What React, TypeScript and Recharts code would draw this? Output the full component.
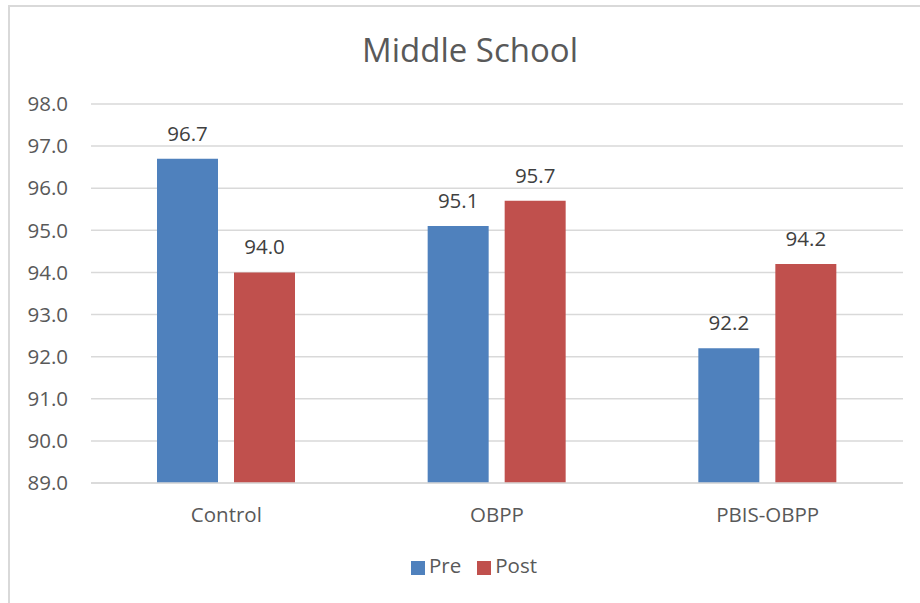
import React from "react";
import { BarChart, Bar, XAxis, YAxis, CartesianGrid, Legend, LabelList } from "recharts";

const categories = ["Control", "OBPP", "PBIS-OBPP"];
const preValues = [96.7, 95.1, 92.2];
const postValues = [94.0, 95.7, 94.2];
const yTicks = [89, 90, 91, 92, 93, 94, 95, 96, 97, 98];

const data = categories.map((c, i) => ({ name: c, Pre: preValues[i], Post: postValues[i] }));

const FONT = "'Open Sans', 'Noto Sans', sans-serif";
const TEXT = "#595959";
const FS = 20.5;

export default function App() {
  return (
    <div style={{ position: "absolute", left: 0, top: 0, width: 920, height: 603, overflow: "hidden", background: "#fff", fontFamily: FONT }}>
      <div style={{ position: "absolute", left: 8, top: 5, width: 960, height: 700, border: "2px solid #d9d9d9", boxSizing: "border-box" }} />
      <div style={{ position: "absolute", left: 8, top: 27, width: 924, textAlign: "center", fontSize: 33, color: TEXT, fontFamily: FONT }}>Middle School</div>
      <div style={{ position: "absolute", left: 0, top: 0 }}>
        <BarChart
          width={920}
          height={603}
          data={data}
          margin={{ top: 104, right: 17, left: 0, bottom: 52 }}
          barGap={16}
          barCategoryGap={66}
        >
          <CartesianGrid vertical={false} stroke="#d9d9d9" strokeWidth={1.5} />
          <XAxis
            dataKey="name"
            axisLine={{ stroke: "#d9d9d9", strokeWidth: 1.5 }}
            tickLine={false}
            tickMargin={18}
            height={40}
            tick={{ fill: TEXT, fontSize: FS, fontFamily: FONT }}
          />
          <YAxis
            domain={[89, 98]}
            ticks={yTicks}
            interval={0}
            allowDataOverflow
            axisLine={false}
            tickLine={false}
            width={91}
            tickMargin={17}
            tickFormatter={(v: number) => v.toFixed(1)}
            tick={{ fill: TEXT, fontSize: FS, fontFamily: FONT }}
          />
          <Legend
            verticalAlign="bottom"
            align="center"
            iconType="square"
            iconSize={14}
            itemSorter={(item: any) => (item.value === "Pre" ? 0 : 1)}
            wrapperStyle={{ fontFamily: FONT, fontSize: FS, left: 17, width: 924, top: 551, bottom: "auto" }}
            formatter={(value: string) => (
              <span style={{ color: TEXT, marginRight: value === "Pre" ? 6 : 0 }}>{value}</span>
            )}
          />
          <Bar dataKey="Pre" fill="#4F81BD" barSize={61} isAnimationActive={false}>
            <LabelList dataKey="Pre" position="top" offset={18} formatter={(v: number) => v.toFixed(1)} style={{ fill: "#404040", fontSize: FS, fontFamily: FONT }} />
          </Bar>
          <Bar dataKey="Post" fill="#C0504D" barSize={61} isAnimationActive={false}>
            <LabelList dataKey="Post" position="top" offset={18} formatter={(v: number) => v.toFixed(1)} style={{ fill: "#404040", fontSize: FS, fontFamily: FONT }} />
          </Bar>
        </BarChart>
      </div>
    </div>
  );
}
